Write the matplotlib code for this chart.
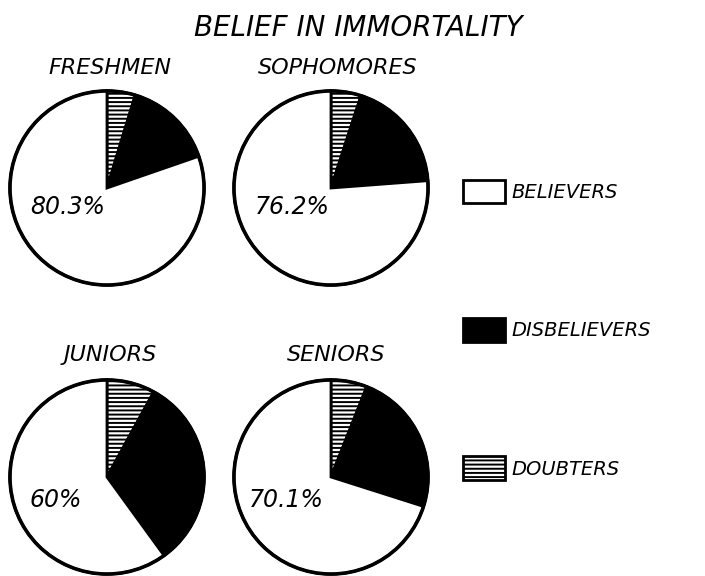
import matplotlib
matplotlib.use("Agg")
import matplotlib.pyplot as plt

# shares in percent, clockwise from twelve o'clock
groups = ["FRESHMEN", "SOPHOMORES", "JUNIORS", "SENIORS"]
doubters = [4.7, 5.0, 8.0, 6.0]
disbelievers = [15.0, 18.8, 32.0, 23.9]
believers = [80.3, 76.2, 60.0, 70.1]
pct_labels = ["80.3%", "76.2%", "60%", "70.1%"]
categories = ["DOUBTERS", "DISBELIEVERS", "BELIEVERS"]

W, H = 705, 576
R = 99
centers = [(107, 188), (331, 188), (107, 477), (331, 477)]
title_pos = [(110, 68), (338, 68), (110, 355), (336, 355)]
pct_pos = [(68, 207), (292, 207), (56, 500), (286, 500)]

plt.rcParams["hatch.linewidth"] = 1.4
plt.rcParams["font.family"] = "DejaVu Sans"

fig = plt.figure(figsize=(W / 100, H / 100), dpi=100)
fig.patch.set_facecolor("white")

fig.text(358 / W, 1 - 28 / H, "BELIEF IN IMMORTALITY", ha="center", va="center",
         fontsize=20, style="italic")

wedges = None
for i, name in enumerate(groups):
    cx, cy = centers[i]
    ax = fig.add_axes([(cx - R) / W, (H - cy - R) / H, 2 * R / W, 2 * R / H])
    vals = [doubters[i], disbelievers[i], believers[i]]
    ws, _ = ax.pie(vals, startangle=90, counterclock=False, radius=1,
                   colors=["white", "black", "white"],
                   wedgeprops=dict(edgecolor="black", linewidth=2.0))
    ws[0].set_hatch("----")
    ax.add_patch(plt.Circle((0, 0), 1, fill=False, lw=2.6, color="black"))
    ax.set_xlim(-1.02, 1.02)
    ax.set_ylim(-1.02, 1.02)
    ax.set_aspect("equal")
    ax.axis("off")
    if wedges is None:
        wedges = ws
    tx, ty = title_pos[i]
    fig.text(tx / W, 1 - ty / H, name, ha="center", va="center",
             fontsize=16, style="italic")
    px, py = pct_pos[i]
    fig.text(px / W, 1 - py / H, pct_labels[i], ha="center", va="center",
             fontsize=17, style="italic")

handles = [wedges[2], wedges[1], wedges[0]]
labels = [categories[2], categories[1], categories[0]]
leg = fig.legend(handles, labels, loc="upper left",
                 bbox_to_anchor=(445 / W, 1 - 162 / H),
                 frameon=False, prop=dict(size=14, style="italic"),
                 handlelength=2.2, handleheight=1.5, handletextpad=0.3,
                 labelspacing=5.9)

fig.savefig("out.png", dpi=100, facecolor="white")
